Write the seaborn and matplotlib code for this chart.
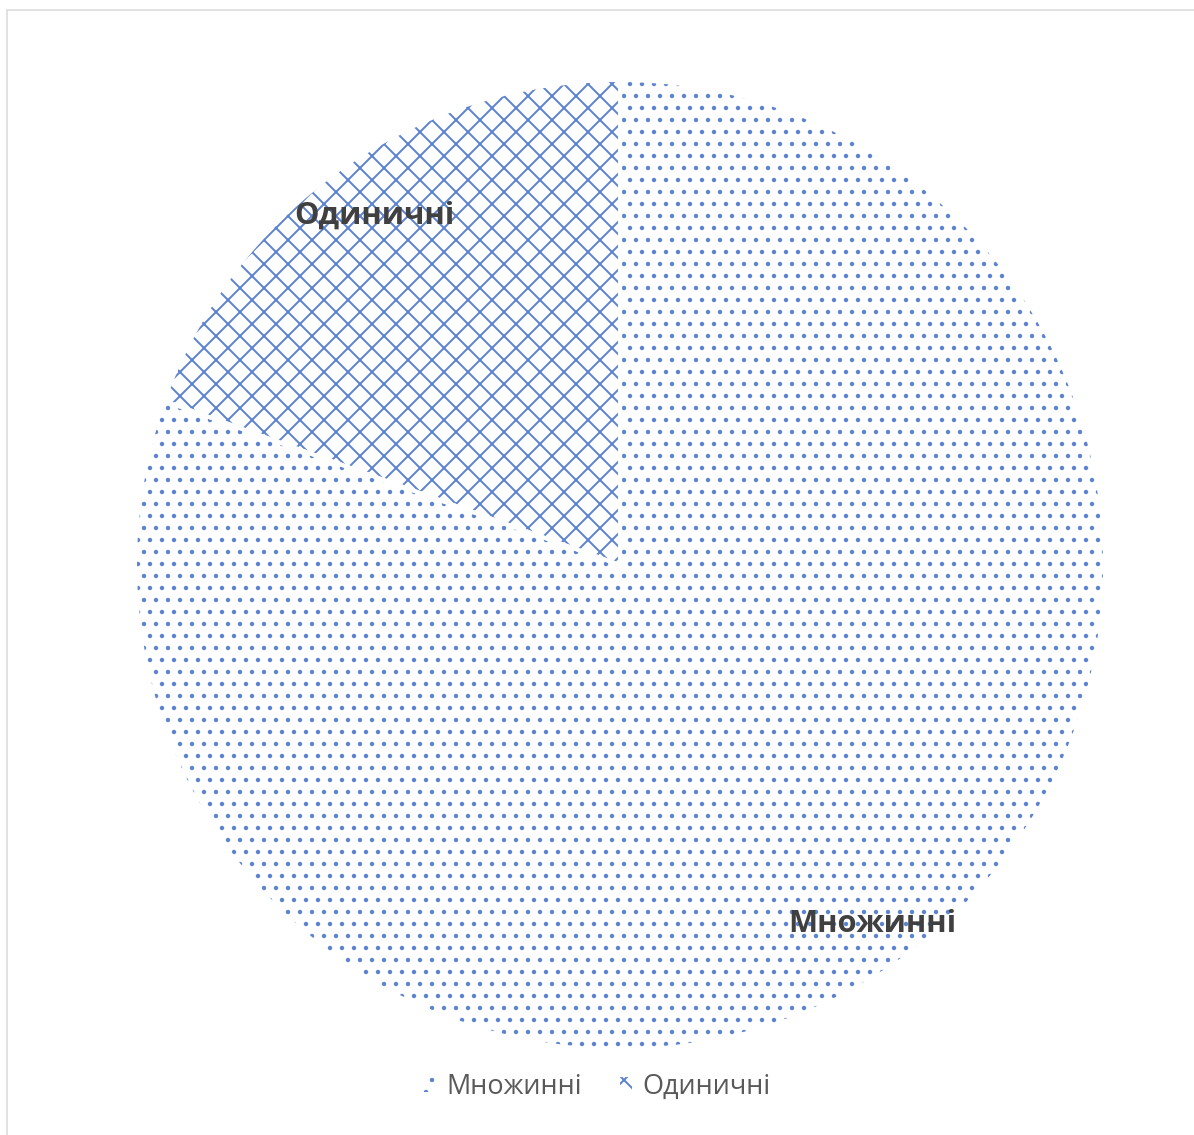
import matplotlib
matplotlib.use("Agg")
import matplotlib.pyplot as plt
import seaborn as sns
from matplotlib.lines import Line2D

# Share of each ejection type (percent)
categories = ["Множинні", "Одиничні"]
shares = [80.5, 19.5]
hatches = [".", "x"]
# radial position of each slice label (fraction of radius)
label_radius = [0.905, 0.88]

ACCENT = "#5E84D0"
LABEL_COLOR = "#404040"
LEGEND_COLOR = "#595959"

sns.set_theme(style="white")
plt.rcParams["font.family"] = ["Open Sans", "DejaVu Sans"]
plt.rcParams["hatch.linewidth"] = 2.0

DPI = 72
W, H = 1194, 1135
fig = plt.figure(figsize=(W / DPI, H / DPI), dpi=DPI, facecolor="white")

# pie occupies a 970x970 px square centred at (620, 565)
R = 485
cx, cy = 620, 565
ax = fig.add_axes([(cx - R) / W, (H - cy - R) / H, 2 * R / W, 2 * R / H])

# hatched slices (hatch takes the edge colour, stroke width zero)
wedges, texts = ax.pie(
    shares,
    labels=categories,
    labeldistance=1.0,
    startangle=90,
    counterclock=False,
    hatch=hatches,
    wedgeprops=dict(facecolor="white", edgecolor=ACCENT, linewidth=0),
    textprops=dict(fontsize=31, fontweight="bold", color=LABEL_COLOR),
)
for t, r in zip(texts, label_radius):
    x, y = t.get_position()
    t.set_position((x * r, y * r))
    t.set_ha("center")
    t.set_va("center")

# white separators between the slices
ax.pie(
    shares,
    startangle=90,
    counterclock=False,
    wedgeprops=dict(facecolor="none", edgecolor="white", linewidth=4),
)

ax.set_xlim(-1, 1)
ax.set_ylim(-1, 1)
ax.set_aspect("auto")
ax.axis("off")

leg = fig.legend(
    wedges,
    categories,
    loc="center",
    bbox_to_anchor=(0.5, (H - 1087) / H),
    ncol=2,
    frameon=False,
    fontsize=27,
    handlelength=0.45,
    handleheight=0.45,
    handletextpad=0.4,
    columnspacing=1.4,
)
for t in leg.get_texts():
    t.set_color(LEGEND_COLOR)

# chart area border (light grey, left and top)
fig.add_artist(Line2D([7 / W, 7 / W], [0, (H - 10) / H], color="#D9D9D9", lw=1.5))
fig.add_artist(Line2D([7 / W, 1], [(H - 10) / H, (H - 10) / H], color="#D9D9D9", lw=1.5))

fig.savefig("out.png", dpi=DPI, facecolor="white")
